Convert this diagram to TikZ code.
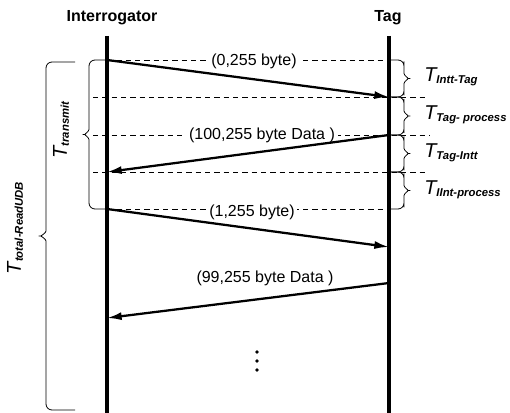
\documentclass[tikz,border=0pt]{standalone}
\usepackage{fontspec}
\setmainfont{Liberation Sans}
\usetikzlibrary{arrows.meta}

% time symbol with a small bold subscript
\newcommand{\tlabel}[1]{{\fontsize{15}{17}\selectfont\itshape T}\raisebox{-1.5pt}{\fontsize{8.5}{10}\selectfont\bfseries\itshape #1}}

% brace made of straight parts: end x, stem x, tip x, top y, bottom y
\newcommand{\spanbrace}[5]{%
  \draw[span] (#1,#4) [rounded corners=4.5pt] -- (#2,#4) -- (#2,{(#4+#5)/2-11})
    .. controls (#2,{(#4+#5)/2-3}) and ({(#2+#3)/2},{(#4+#5)/2}) .. (#3,{(#4+#5)/2})
    .. controls ({(#2+#3)/2},{(#4+#5)/2}) and (#2,{(#4+#5)/2+3}) .. (#2,{(#4+#5)/2+11})
    -- (#2,#5) -- (#1,#5);}

\tikzset{
  actor/.style={font=\fontsize{12}{14}\selectfont\bfseries, inner sep=1pt},
  lifeline/.style={line width=2.3pt},
  msg/.style={line width=1.7pt, -{Latex[length=11pt,width=6pt]}},
  msglabel/.style={fill=white, inner sep=2pt, font=\fontsize{12}{14}\selectfont},
  guide/.style={line width=0.5pt, dash pattern=on 4pt off 3pt},
  span/.style={line width=0.6pt},
  timelabel/.style={anchor=west, inner sep=0pt}
}

\begin{document}
\begin{tikzpicture}[x=0.75pt,y=-0.75pt]
\useasboundingbox (0,0) rectangle (510,413);

\node[actor] (reader) at (112,18) {Interrogator};
\node[actor] (tag) at (388,18) {Tag};

% points on the two lifelines
\coordinate (r top) at (107,36);
\coordinate (r bot) at (107,413);
\coordinate (t top) at (389,36);
\coordinate (t bot) at (389,413);
\coordinate (r0) at (107,60);
\coordinate (t1) at (389,97);
\coordinate (t2) at (389,135);
\coordinate (r3) at (107,172);
\coordinate (r4) at (107,209);
\coordinate (t5) at (389,247);
\coordinate (t6) at (389,283);
\coordinate (r7) at (107,318);

% dashed time marks
\draw[guide] (r0) -- (389,60);
\draw[guide] (93,97) -- (427,97);
\draw[guide] (93,135) -- (430,135);
\draw[guide] (93,172) -- (427,172);
\draw[guide] (r4) -- (389,209);

\draw[lifeline] (r top) -- (r bot);
\draw[lifeline] (t top) -- (t bot);

\node[msglabel] (m0) at (254,61) {(0,255 byte)};
\node[msglabel] (m1) at (262,135) {(100,255 byte Data )};
\node[msglabel] (m2) at (252,212) {(1,255 byte)};
\node[msglabel, fill=none] (m3) at (265,278) {(99,255 byte Data )};

\draw[msg] (r0) -- (t1);
\draw[msg] (t2) -- (r3);
\draw[msg] (r4) -- (t5);
\draw[msg] (t6) -- (r7);

% more exchanges follow
\fill (257,352) circle (1.4pt);
\fill (257,361) circle (1.4pt);
\fill (257,370) circle (1.4pt);

% braces at the tag
\spanbrace{389}{404}{414}{60}{97}
\spanbrace{389}{404}{414}{97}{135}
\spanbrace{389}{404}{414}{135}{172}
\spanbrace{389}{404}{414}{172}{209}
\node[timelabel] (tit) at (424,77) {\tlabel{Intt-Tag}};
\node[timelabel] (ttp) at (424,115) {\tlabel{Tag- process}};
\node[timelabel] (tti) at (424,153) {\tlabel{Tag-Intt}};
\node[timelabel] (tip) at (424,190) {\tlabel{IInt-process}};

% braces at the interrogator
\spanbrace{107}{89}{79}{60}{209}
\spanbrace{75}{46}{35}{62}{410}
\node[rotate=90, inner sep=0pt] (ttx) at (61,130) {\tlabel{transmit}};
\node[rotate=90, inner sep=0pt] (ttot) at (15,228) {\tlabel{total-ReadUDB}};
\end{tikzpicture}
\end{document}
